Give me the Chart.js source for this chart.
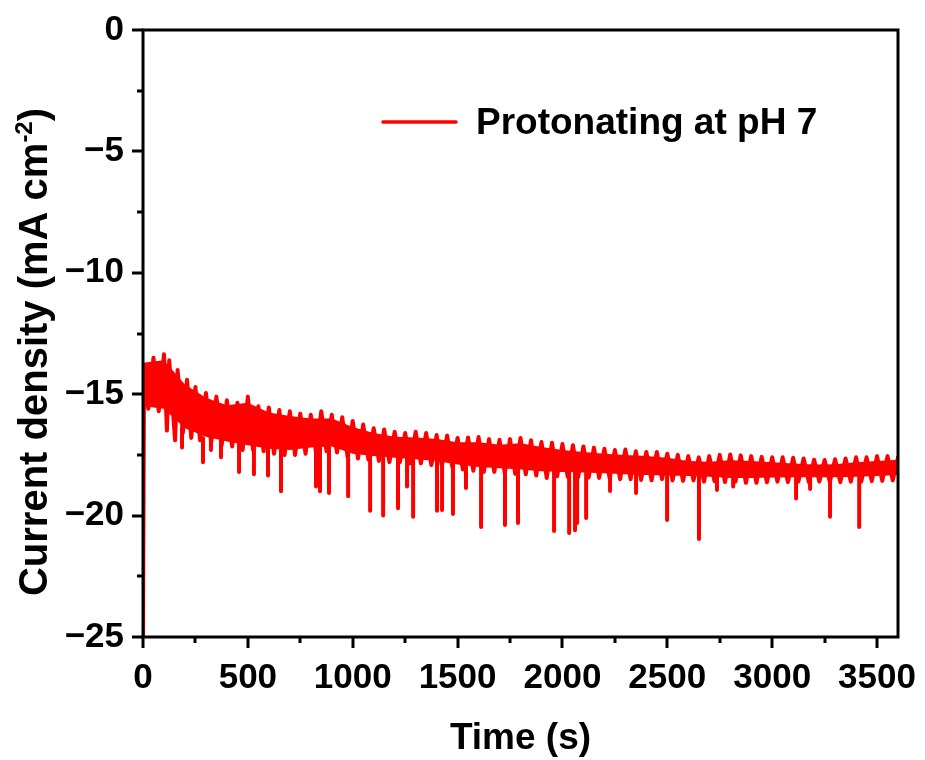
<!DOCTYPE html>
<html>
<head>
<meta charset="utf-8">
<script src="https://cdn.jsdelivr.net/npm/chart.js@4.4.1/dist/chart.umd.min.js"></script>
<style>
html,body{margin:0;padding:0;background:#fff;}
#wrap{width:925px;height:760px;position:relative;}
</style>
</head>
<body>
<div id="wrap"><canvas id="c" width="925" height="760"></canvas></div>
<script>
// ---- Data ----
const seriesLabel = 'Protonating at pH 7';
const xTitle = 'Time (s)';
const yTitleMain = 'Current density (mA cm';
const yTitleSup = '-2';
const yTitleEnd = ')';

// noisy chronoamperometry trace (time in s, current density in mA cm^-2)
const time = [0,5,25,50,75,100,114,125,153,165,190,210,230,250,272,
  300,325,350,375,400,425,450,475,500,525,550,575,600,625,650,675,700,725,750,775,800,825,850,875,900,925,950,975,
  1000,1025,1050,1075,1100,1125,1150,1175,1200,1225,1250,1275,1300,1325,1350,1375,1400,1425,1450,1475,1500,1525,1550,1575,1600,1625,1650,1675,1700,1725,1750,1775,1800,1825,1850,1875,1900,1925,1950,1975,
  2000,2025,2050,2075,2100,2125,2150,2175,2200,2225,2250,2275,2300,2325,2350,2375,2400,2425,2450,2475,2500,2525,2550,2575,2600,2625,2650,2675,2700,2725,2750,2775,2800,2825,2850,2875,2900,2925,2950,2975,
  3000,3025,3050,3075,3100,3125,3150,3175,3200,3225,3250,3275,3300,3325,3350,3375,3400,3425,3450,3475,3500,3525,3550,3575,3600];
const current = [-25.0,-13.9,-15.6,-13.5,-15.7,-13.35,-16.5,-13.6,-16.9,-14.0,-16.6,-14.4,-16.8,-14.7,-16.9,
  -14.95,-17.0,-15.1,-17.1,-15.25,-17.15,-15.35,-17.3,-15.1,-17.3,-15.5,-17.35,-15.55,-17.45,-15.65,-17.5,-15.7,-17.5,-15.8,-17.45,-15.85,-17.4,-15.7,-17.35,-15.85,-17.4,-15.95,-17.55,
  -16.1,-17.65,-16.25,-17.7,-16.4,-17.75,-16.45,-17.8,-16.55,-17.8,-16.6,-17.85,-16.55,-17.85,-16.6,-17.92,-16.68,-17.95,-16.7,-18.0,-16.8,-18.1,-16.78,-18.15,-16.76,-18.2,-16.85,-18.2,-16.88,-18.25,-16.85,-18.28,-16.8,-18.3,-16.9,-18.35,-16.97,-18.45,-17.0,-18.38,
  -17.05,-18.4,-17.1,-18.42,-17.15,-18.43,-17.2,-18.45,-17.25,-18.46,-17.3,-18.5,-17.28,-18.5,-17.35,-18.53,-17.38,-18.55,-17.38,-18.5,-17.45,-18.55,-17.5,-18.57,-17.55,-18.55,-17.6,-18.6,-17.55,-18.58,-17.5,-18.62,-17.48,-18.6,-17.52,-18.65,-17.55,-18.65,-17.58,-18.63,
  -17.6,-18.6,-17.6,-18.62,-17.62,-18.6,-17.65,-18.62,-17.7,-18.6,-17.71,-18.62,-17.68,-18.62,-17.65,-18.6,-17.6,-18.6,-17.6,-18.58,-17.55,-18.57,-17.55,-18.55,-17.6];

// sharp downward spikes: time, level they start from, lowest value
const spikeTime  = [186,286,324,372,458,529,596,658,825,844,887,978,1083,1145,1216,1259,1288,1402,1426,1478,1540,1612,1726,1788,1960,2032,2060,2070,2113,2227,2351,2499,2651,2737,2814,3114,3181,3276,3415];
const spikeBase  = [-16.4,-16.8,-16.8,-16.9,-17.0,-17.1,-17.2,-17.3,-17.2,-17.2,-17.2,-17.4,-17.5,-17.6,-17.6,-17.6,-17.65,-17.75,-17.75,-17.85,-17.95,-18.0,-18.05,-18.1,-18.2,-18.2,-18.2,-18.2,-18.25,-18.25,-18.3,-18.35,-18.4,-18.4,-18.45,-18.4,-18.4,-18.4,-18.4];
const spikeDepth = [-17.2,-17.8,-17.3,-17.6,-18.2,-18.3,-18.35,-19.0,-18.8,-19.0,-19.07,-19.2,-19.8,-20.0,-19.7,-18.8,-20.05,-19.8,-19.77,-19.93,-18.86,-20.47,-20.39,-20.3,-20.63,-20.72,-20.6,-20.3,-20.1,-18.99,-19.07,-20.18,-20.96,-18.95,-18.8,-19.3,-18.9,-20.05,-20.47];

// dense core of the noise band (every 100 s)
const bandTime = [0,100,200,300,400,500,600,700,800,900,1000,1100,1200,1300,1400,1500,1600,1700,1800,1900,2000,2100,2200,2300,2400,2500,2600,2700,2800,2900,3000,3100,3200,3300,3400,3500,3600];
const bandTop = [-13.7,-13.6,-14.6,-15.15,-15.45,-15.35,-15.75,-15.9,-16.0,-16.0,-16.35,-16.6,-16.75,-16.78,-16.85,-16.98,-16.98,-17.08,-17.02,-17.17,-17.3,-17.38,-17.45,-17.5,-17.55,-17.62,-17.75,-17.78,-17.72,-17.75,-17.8,-17.85,-17.9,-17.88,-17.8,-17.75,-17.7];
const bandBottom = [-15.5,-15.6,-16.4,-16.75,-16.95,-17.1,-17.25,-17.3,-17.2,-17.15,-17.45,-17.55,-17.62,-17.68,-17.75,-17.9,-18.0,-18.05,-18.1,-18.17,-18.2,-18.23,-18.26,-18.3,-18.33,-18.35,-18.37,-18.4,-18.45,-18.45,-18.43,-18.42,-18.42,-18.42,-18.4,-18.37,-18.33];

// axis ranges and ticks
const xMin = 0, xMax = 3600, xMinor = 250;
const yMin = -25, yMax = 0, yMajor = 5, yMinor = 2.5;
const xTickValues = [0,500,1000,1500,2000,2500,3000,3500];

// ---- styling ----
const RED = '#ff0000';
const FONT = '"Liberation Sans", Arial, sans-serif';
const TICK_FONT = 35, XTITLE_FONT = 37, YTITLE_FONT = 40, LEGEND_FONT = 37;

const toPts = (xs, ys) => xs.map((x, i) => ({x: x, y: ys[i]}));
const spikePts = [];
spikeTime.forEach((t, i) => {
  spikePts.push({x: t, y: spikeBase[i]}, {x: t, y: spikeDepth[i]}, {x: t, y: null});
});

const framePlugin = {
  id: 'frame',
  afterDraw(chart) {
    const {ctx, chartArea: a, scales} = chart;
    ctx.save();
    ctx.strokeStyle = '#000';
    ctx.lineWidth = 3;
    ctx.lineCap = 'square';
    ctx.strokeRect(a.left, a.top, a.right - a.left, a.bottom - a.top);
    const xs = scales.x, ys = scales.y;
    ctx.beginPath();
    for (let v = xMin; v <= xMax + 1e-6; v += xMinor) {
      const px = Math.round(xs.getPixelForValue(v));
      const major = xTickValues.includes(v);
      ctx.moveTo(px, a.bottom);
      ctx.lineTo(px, a.bottom + (major ? 11 : 6));
    }
    for (let v = yMin; v <= yMax + 1e-6; v += yMinor) {
      const py = Math.round(ys.getPixelForValue(v));
      const major = Math.abs(v % yMajor) < 1e-6;
      ctx.moveTo(a.left, py);
      ctx.lineTo(a.left - (major ? 11 : 6), py);
    }
    ctx.lineCap = 'butt';
    ctx.stroke();

    // x title
    ctx.fillStyle = '#000';
    ctx.font = 'bold ' + XTITLE_FONT + 'px ' + FONT;
    ctx.textAlign = 'center';
    ctx.textBaseline = 'alphabetic';
    ctx.fillText(xTitle, (a.left + a.right) / 2, 749);

    // y title with superscript
    ctx.save();
    ctx.translate(47, 352);
    ctx.rotate(-Math.PI / 2);
    const mainFont = 'bold ' + YTITLE_FONT + 'px ' + FONT;
    const supFont = 'bold ' + Math.round(YTITLE_FONT * 0.6) + 'px ' + FONT;
    ctx.font = mainFont;
    const w1 = ctx.measureText(yTitleMain).width;
    const w3 = ctx.measureText(yTitleEnd).width;
    ctx.font = supFont;
    const w2 = ctx.measureText(yTitleSup).width;
    const x0 = -(w1 + w2 + w3) / 2;
    ctx.textAlign = 'left';
    ctx.font = mainFont;
    ctx.fillText(yTitleMain, x0, 0);
    ctx.font = supFont;
    ctx.fillText(yTitleSup, x0 + w1, -YTITLE_FONT * 0.38);
    ctx.font = mainFont;
    ctx.fillText(yTitleEnd, x0 + w1 + w2, 0);
    ctx.restore();

    // legend
    const ds = chart.data.datasets[0];
    ctx.strokeStyle = ds.borderColor;
    ctx.lineWidth = 3.5;
    ctx.lineCap = 'round';
    ctx.beginPath();
    ctx.moveTo(383, 122);
    ctx.lineTo(456, 122);
    ctx.stroke();
    ctx.fillStyle = '#000';
    ctx.font = 'bold ' + LEGEND_FONT + 'px ' + FONT;
    ctx.textAlign = 'left';
    ctx.textBaseline = 'alphabetic';
    ctx.fillText(ds.label, 476, 134);
    ctx.restore();
  }
};

new Chart(document.getElementById('c'), {
  type: 'line',
  data: {
    datasets: [
      {label: seriesLabel, data: toPts(time, current), borderColor: RED, backgroundColor: RED, borderWidth: 4,
       borderJoinStyle: 'round', borderCapStyle: 'round', pointRadius: 0, tension: 0, fill: false, order: 0},
      {label: 'spikes', data: spikePts, borderColor: RED, borderWidth: 4, borderCapStyle: 'round',
       borderJoinStyle: 'round', pointRadius: 0, spanGaps: false, fill: false, order: 0},
      {label: 'band-top', data: toPts(bandTime, bandTop), borderColor: RED, backgroundColor: RED,
       borderWidth: 0, pointRadius: 0, fill: '+1', order: 1},
      {label: 'band-bottom', data: toPts(bandTime, bandBottom), borderColor: RED, borderWidth: 0,
       pointRadius: 0, fill: false, order: 1}
    ]
  },
  options: {
    responsive: false,
    animation: false,
    events: [],
    layout: {padding: {left: 0, right: 27, top: 30, bottom: 0}},
    plugins: {legend: {display: false}, tooltip: {enabled: false}, title: {display: false}},
    scales: {
      x: {
        type: 'linear',
        min: xMin, max: xMax,
        border: {display: false},
        grid: {display: false, drawTicks: false},
        ticks: {
          padding: 20,
          color: '#000',
          font: {family: FONT, size: TICK_FONT, weight: 'bold'},
          maxRotation: 0,
          minRotation: 0,
          autoSkip: false,
          callback: v => String(v)
        },
        afterBuildTicks(scale) {
          scale.ticks = xTickValues.map(v => ({value: v}));
        },
        afterFit(scale) {
          scale.height = 123;
          scale.paddingLeft = 0; scale.paddingRight = 0;
        }
      },
      y: {
        type: 'linear',
        min: yMin, max: yMax,
        border: {display: false},
        grid: {display: false, drawTicks: false},
        ticks: {
          stepSize: yMajor,
          padding: 19,
          color: '#000',
          font: {family: FONT, size: TICK_FONT, weight: 'bold'},
          callback: v => (v < 0 ? '\u2212' + Math.abs(v) : String(v))
        },
        afterFit(scale) {
          scale.width = 143;
          scale.paddingTop = 0; scale.paddingBottom = 0;
        }
      }
    }
  },
  plugins: [framePlugin]
});
</script>
</body>
</html>
